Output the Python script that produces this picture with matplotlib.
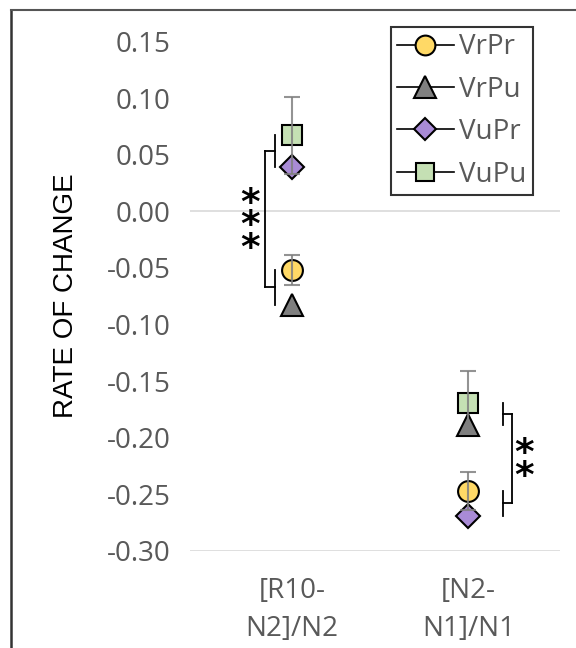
import matplotlib
matplotlib.use('Agg')
import matplotlib.pyplot as plt
from matplotlib.lines import Line2D

plt.rcParams['axes.unicode_minus'] = False

# categories and series values
categories = ['[R10-\nN2]/N2', '[N2-\nN1]/N1']
series = ['VrPr', 'VrPu', 'VuPr', 'VuPu']
vrpr = [-0.052, -0.247]
vrpu = [-0.0825, -0.189]
vupr = [0.039, -0.269]
vupu = [0.067, -0.169]
vrpr_err = [0.0135, 0.017]
vupu_err = [0.034, 0.028]
yticks = [0.15, 0.10, 0.05, 0.00, -0.05, -0.10, -0.15, -0.20, -0.25, -0.30]

# significance: (category, upper pair, lower pair, tick x, bracket x, star x, label)
sig = [(0, ('VuPu', 'VuPr'), ('VrPr', 'VrPu'), -0.097, -0.153, -0.24, '*\n*\n*'),
       (1, ('VuPu', 'VrPu'), ('VrPr', 'VuPr'), 0.199, 0.25, 0.315, '*\n*')]

markers = {'VrPr': 'o', 'VrPu': '^', 'VuPr': 'D', 'VuPu': 's'}
colors = {'VrPr': '#FFD966', 'VrPu': '#7F7F7F', 'VuPr': '#A98BD6', 'VuPu': '#C5E0B4'}
sizes = {'VrPr': 15, 'VrPu': 16, 'VuPr': 12, 'VuPu': 14}
values = {'VrPr': vrpr, 'VrPu': vrpu, 'VuPr': vupr, 'VuPu': vupu}
errs = {'VrPr': vrpr_err, 'VuPu': vupu_err}

fig = plt.figure(figsize=(5.76, 6.48), dpi=100)
ax = fig.add_axes([0.330, 0.150, 0.642, 0.786])

# outer frame (top and left edges only are visible)
fig.add_artist(Line2D([11/576, 11/576], [0, 1 - 10/648], transform=fig.transFigure,
                      color='#333333', lw=1.8))
fig.add_artist(Line2D([11/576, 1], [1 - 10/648, 1 - 10/648], transform=fig.transFigure,
                      color='#555555', lw=1.5))

x = list(range(len(categories)))
ax.axhline(0, color='#D9D9D9', lw=1.2, zorder=0)
ax.axhline(-0.30, color='#D9D9D9', lw=1.2, zorder=0)

for s in series:
    ax.plot(x, values[s], linestyle='none', marker=markers[s], ms=sizes[s],
            mfc=colors[s], mec='black', mew=1.5, zorder=3)
for s, e in errs.items():
    ax.errorbar(x, values[s], yerr=e, fmt='none', ecolor='#808080', elinewidth=1.5,
                capsize=6, capthick=1.5, alpha=0.85, zorder=4)

for cat, up, lo, tx, mx, sx, label in sig:
    mids = []
    for pair in (up, lo):
        a, b = values[pair[0]][cat], values[pair[1]][cat]
        ax.plot([cat + tx, cat + tx], [a, b], color='black', lw=1.3)
        m = (a + b) / 2
        mids.append(m)
        ax.plot([cat + tx, cat + mx], [m, m], color='black', lw=1.3)
    ax.plot([cat + mx, cat + mx], mids, color='black', lw=1.3)
    ax.text(cat + sx, sum(mids) / 2 - 0.006, label, ha='center', va='center',
            fontsize=27, color='black', family='DejaVu Sans', linespacing=0.52,
            fontweight='bold')

ax.set_xlim(-0.58, 1.52)
ax.set_ylim(-0.30, 0.15)
ax.set_yticks(yticks)
ax.set_yticklabels(['%.2f' % v for v in yticks], family='Open Sans', fontsize=20,
                   color='#595959')
ax.set_xticks(x)
ax.set_xticklabels(categories, family='Open Sans', fontsize=20, color='#595959',
                   linespacing=1.45)
ax.tick_params(axis='y', length=0, pad=14)
ax.tick_params(axis='x', length=0, pad=19)
for sp in ax.spines.values():
    sp.set_visible(False)
ax.set_ylabel('RATE OF CHANGE', family='Liberation Sans', fontsize=20, color='black',
              labelpad=20)

handles = [Line2D([], [], color='black', lw=1.2, marker=markers[s], ms=sizes[s] * 0.95,
                  mfc=colors[s], mec='black', mew=1.5) for s in series]
leg = ax.legend(handles, series, loc='upper right', bbox_to_anchor=(0.927, 1.028),
                borderaxespad=0, frameon=True, fancybox=False, edgecolor='black',
                prop={'family': 'Open Sans', 'size': 20}, handlelength=2.05,
                handletextpad=0.2, labelspacing=0.52, borderpad=0.22)
leg.get_frame().set_linewidth(1.5)
for t in leg.get_texts():
    t.set_color('#595959')

fig.savefig('out.png', dpi=100)
